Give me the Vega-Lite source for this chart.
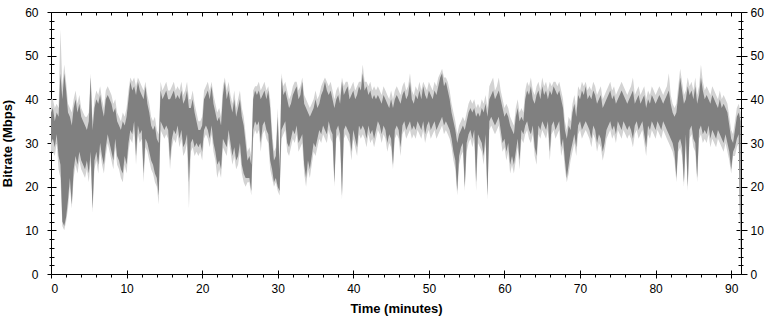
{
"$schema": "https://vega.github.io/schema/vega-lite/v6.json",
"width": 690, "height": 262,
"autosize": {"type": "none"},
"padding": {"left": 51, "top": 12, "right": 29, "bottom": 46},
"background": "white",
"config": {"view": {"stroke": null}, "axis": {"grid": false, "labelFont": "Liberation Sans", "labelFontSize": 12, "labelColor": "black", "tickColor": "black", "domainColor": "black", "titleFont": "Liberation Sans", "titleFontSize": 13, "titleFontWeight": "bold", "titleColor": "black", "zindex": 1}},
"data": {"values": [
{"t":0,"a":28,"b":30,"c":37,"d":40},{"t":0.25,"a":28,"b":31,"c":38,"d":40},{"t":0.5,"a":27,"b":29,"c":35,"d":38},{"t":0.75,"a":30,"b":32,"c":37,"d":39},
{"t":1,"a":24,"b":27,"c":36,"d":38},{"t":1.25,"a":22,"b":25,"c":46,"d":56},{"t":1.5,"a":11,"b":12,"c":40,"d":43},{"t":1.75,"a":10,"b":11,"c":46,"d":48},
{"t":2,"a":12,"b":13,"c":42,"d":44},{"t":2.25,"a":15,"b":17,"c":37,"d":39},{"t":2.5,"a":20,"b":22,"c":36,"d":38},{"t":2.75,"a":15,"b":16,"c":34,"d":37},
{"t":3,"a":22,"b":24,"c":38,"d":40},{"t":3.25,"a":25,"b":27,"c":40,"d":42},{"t":3.5,"a":23,"b":25,"c":37,"d":39},{"t":3.75,"a":26,"b":28,"c":39,"d":41},
{"t":4,"a":24,"b":26,"c":36,"d":38},{"t":4.25,"a":23,"b":25,"c":35,"d":37},{"t":4.5,"a":22,"b":24,"c":34,"d":36},{"t":4.75,"a":24,"b":26,"c":33,"d":36},
{"t":5,"a":21,"b":23,"c":35,"d":37},{"t":5.25,"a":26,"b":28,"c":45,"d":46},{"t":5.5,"a":14,"b":15,"c":33,"d":35},{"t":5.75,"a":24,"b":26,"c":38,"d":40},
{"t":6,"a":26,"b":28,"c":40,"d":42},{"t":6.25,"a":23,"b":25,"c":39,"d":41},{"t":6.5,"a":28,"b":30,"c":41,"d":43},{"t":6.75,"a":25,"b":27,"c":38,"d":40},
{"t":7,"a":23,"b":25,"c":36,"d":38},{"t":7.25,"a":27,"b":29,"c":40,"d":42},{"t":7.5,"a":30,"b":32,"c":41,"d":43},{"t":7.75,"a":28,"b":30,"c":40,"d":42},
{"t":8,"a":26,"b":28,"c":39,"d":41},{"t":8.25,"a":24,"b":26,"c":37,"d":39},{"t":8.5,"a":29,"b":31,"c":38,"d":40},{"t":8.75,"a":25,"b":27,"c":35,"d":37},
{"t":9,"a":24,"b":26,"c":34,"d":36},{"t":9.25,"a":22,"b":24,"c":33,"d":35},{"t":9.5,"a":21,"b":23,"c":35,"d":37},{"t":9.75,"a":25,"b":27,"c":34,"d":36},
{"t":10,"a":23,"b":25,"c":36,"d":38},{"t":10.25,"a":28,"b":30,"c":40,"d":42},{"t":10.5,"a":31,"b":33,"c":44,"d":45},{"t":10.75,"a":30,"b":32,"c":42,"d":44},
{"t":11,"a":33,"b":35,"c":43,"d":45},{"t":11.25,"a":25,"b":27,"c":41,"d":43},{"t":11.5,"a":32,"b":34,"c":44,"d":45},{"t":11.75,"a":30,"b":32,"c":42,"d":44},
{"t":12,"a":31,"b":33,"c":41,"d":43},{"t":12.25,"a":21,"b":23,"c":40,"d":42},{"t":12.5,"a":29,"b":31,"c":43,"d":44},{"t":12.75,"a":28,"b":30,"c":39,"d":41},
{"t":13,"a":26,"b":28,"c":37,"d":39},{"t":13.25,"a":24,"b":26,"c":34,"d":36},{"t":13.5,"a":23,"b":25,"c":33,"d":35},{"t":13.75,"a":21,"b":23,"c":34,"d":36},
{"t":14,"a":20,"b":22,"c":31,"d":33},{"t":14.25,"a":16,"b":18,"c":30,"d":32},{"t":14.5,"a":33,"b":35,"c":42,"d":44},{"t":14.75,"a":32,"b":34,"c":40,"d":42},
{"t":15,"a":31,"b":33,"c":41,"d":43},{"t":15.25,"a":32,"b":34,"c":42,"d":44},{"t":15.5,"a":31,"b":33,"c":40,"d":42},{"t":15.75,"a":24,"b":26,"c":40,"d":42},
{"t":16,"a":29,"b":31,"c":41,"d":43},{"t":16.25,"a":31,"b":33,"c":42,"d":44},{"t":16.5,"a":30,"b":32,"c":40,"d":42},{"t":16.75,"a":32,"b":34,"c":41,"d":43},
{"t":17,"a":29,"b":31,"c":40,"d":42},{"t":17.25,"a":31,"b":33,"c":42,"d":44},{"t":17.5,"a":27,"b":29,"c":39,"d":41},{"t":17.75,"a":28,"b":30,"c":40,"d":42},
{"t":18,"a":30,"b":32,"c":42,"d":44},{"t":18.25,"a":15,"b":21,"c":38,"d":40},{"t":18.5,"a":28,"b":30,"c":38,"d":40},{"t":18.75,"a":29,"b":31,"c":40,"d":42},
{"t":19,"a":27,"b":29,"c":37,"d":39},{"t":19.25,"a":28,"b":30,"c":35,"d":37},{"t":19.5,"a":27,"b":29,"c":33,"d":35},{"t":19.75,"a":28,"b":30,"c":33,"d":35},
{"t":20,"a":26,"b":28,"c":34,"d":36},{"t":20.25,"a":31,"b":33,"c":40,"d":42},{"t":20.5,"a":32,"b":34,"c":41,"d":43},{"t":20.75,"a":31,"b":33,"c":42,"d":44},
{"t":21,"a":29,"b":31,"c":40,"d":42},{"t":21.25,"a":32,"b":34,"c":43,"d":44},{"t":21.5,"a":28,"b":30,"c":39,"d":41},{"t":21.75,"a":26,"b":28,"c":37,"d":39},
{"t":22,"a":22,"b":25,"c":35,"d":37},{"t":22.25,"a":24,"b":26,"c":36,"d":38},{"t":22.5,"a":22,"b":24,"c":34,"d":36},{"t":22.75,"a":29,"b":31,"c":41,"d":43},
{"t":23,"a":28,"b":30,"c":44,"d":45},{"t":23.25,"a":27,"b":29,"c":40,"d":42},{"t":23.5,"a":31,"b":33,"c":42,"d":44},{"t":23.75,"a":28,"b":30,"c":39,"d":41},
{"t":24,"a":25,"b":27,"c":37,"d":39},{"t":24.25,"a":27,"b":29,"c":40,"d":42},{"t":24.5,"a":24,"b":26,"c":36,"d":38},{"t":24.75,"a":25,"b":27,"c":38,"d":40},
{"t":25,"a":28,"b":30,"c":40,"d":42},{"t":25.25,"a":23,"b":25,"c":36,"d":38},{"t":25.5,"a":21,"b":23,"c":34,"d":36},{"t":25.75,"a":20,"b":22,"c":30,"d":32},
{"t":26,"a":21,"b":22,"c":26,"d":28},{"t":26.25,"a":21,"b":22,"c":27,"d":29},{"t":26.5,"a":18,"b":19,"c":25,"d":27},{"t":26.75,"a":31,"b":33,"c":40,"d":42},
{"t":27,"a":33,"b":35,"c":42,"d":43},{"t":27.25,"a":32,"b":34,"c":41,"d":43},{"t":27.5,"a":33,"b":35,"c":42,"d":44},{"t":27.75,"a":28,"b":30,"c":40,"d":42},
{"t":28,"a":32,"b":34,"c":41,"d":43},{"t":28.25,"a":33,"b":35,"c":42,"d":44},{"t":28.5,"a":31,"b":33,"c":40,"d":42},{"t":28.75,"a":30,"b":32,"c":42,"d":43},
{"t":29,"a":24,"b":26,"c":38,"d":40},{"t":29.25,"a":22,"b":24,"c":31,"d":33},{"t":29.5,"a":20,"b":21,"c":26,"d":28},{"t":29.75,"a":21,"b":22,"c":27,"d":29},
{"t":30,"a":19,"b":20,"c":36,"d":38},{"t":30.25,"a":18,"b":19,"c":24,"d":26},{"t":30.5,"a":31,"b":33,"c":45,"d":46},{"t":30.75,"a":32,"b":34,"c":41,"d":43},
{"t":31,"a":33,"b":35,"c":42,"d":44},{"t":31.25,"a":28,"b":30,"c":40,"d":42},{"t":31.5,"a":27,"b":29,"c":38,"d":40},{"t":31.75,"a":29,"b":31,"c":39,"d":41},
{"t":32,"a":31,"b":33,"c":41,"d":43},{"t":32.25,"a":30,"b":32,"c":42,"d":44},{"t":32.5,"a":32,"b":34,"c":43,"d":44},{"t":32.75,"a":28,"b":30,"c":40,"d":42},
{"t":33,"a":29,"b":31,"c":41,"d":43},{"t":33.25,"a":30,"b":32,"c":44,"d":45},{"t":33.5,"a":23,"b":25,"c":39,"d":41},{"t":33.75,"a":20,"b":22,"c":38,"d":40},
{"t":34,"a":24,"b":26,"c":37,"d":39},{"t":34.25,"a":22,"b":24,"c":36,"d":38},{"t":34.5,"a":25,"b":27,"c":37,"d":39},{"t":34.75,"a":28,"b":30,"c":38,"d":40},
{"t":35,"a":27,"b":29,"c":40,"d":42},{"t":35.25,"a":29,"b":31,"c":38,"d":40},{"t":35.5,"a":31,"b":33,"c":39,"d":41},{"t":35.75,"a":30,"b":32,"c":41,"d":43},
{"t":36,"a":32,"b":34,"c":42,"d":44},{"t":36.25,"a":31,"b":33,"c":44,"d":45},{"t":36.5,"a":30,"b":32,"c":42,"d":44},{"t":36.75,"a":33,"b":35,"c":41,"d":43},
{"t":37,"a":31,"b":33,"c":42,"d":44},{"t":37.25,"a":30,"b":32,"c":40,"d":42},{"t":37.5,"a":20,"b":21,"c":38,"d":40},{"t":37.75,"a":31,"b":33,"c":40,"d":42},
{"t":38,"a":32,"b":34,"c":41,"d":43},{"t":38.25,"a":30,"b":32,"c":39,"d":41},{"t":38.5,"a":17,"b":18,"c":44,"d":45},{"t":38.75,"a":31,"b":33,"c":41,"d":43},
{"t":39,"a":32,"b":34,"c":42,"d":44},{"t":39.25,"a":31,"b":33,"c":43,"d":44},{"t":39.5,"a":30,"b":32,"c":40,"d":42},{"t":39.75,"a":26,"b":28,"c":41,"d":43},
{"t":40,"a":31,"b":33,"c":42,"d":44},{"t":40.25,"a":29,"b":31,"c":40,"d":42},{"t":40.5,"a":27,"b":29,"c":41,"d":43},{"t":40.75,"a":32,"b":34,"c":43,"d":44},
{"t":41,"a":31,"b":33,"c":42,"d":44},{"t":41.25,"a":32,"b":34,"c":46,"d":48},{"t":41.5,"a":31,"b":33,"c":42,"d":44},{"t":41.75,"a":29,"b":31,"c":43,"d":44},
{"t":42,"a":32,"b":34,"c":41,"d":43},{"t":42.25,"a":30,"b":32,"c":42,"d":44},{"t":42.5,"a":31,"b":33,"c":40,"d":42},{"t":42.75,"a":29,"b":31,"c":41,"d":43},
{"t":43,"a":31,"b":33,"c":40,"d":42},{"t":43.25,"a":33,"b":35,"c":41,"d":43},{"t":43.5,"a":32,"b":34,"c":40,"d":42},{"t":43.75,"a":30,"b":32,"c":39,"d":41},
{"t":44,"a":32,"b":34,"c":41,"d":43},{"t":44.25,"a":31,"b":33,"c":40,"d":42},{"t":44.5,"a":28,"b":30,"c":39,"d":41},{"t":44.75,"a":30,"b":32,"c":38,"d":40},
{"t":45,"a":29,"b":31,"c":40,"d":42},{"t":45.25,"a":24,"b":25,"c":38,"d":40},{"t":45.5,"a":31,"b":33,"c":40,"d":42},{"t":45.75,"a":32,"b":34,"c":41,"d":43},
{"t":46,"a":31,"b":33,"c":40,"d":42},{"t":46.25,"a":27,"b":29,"c":39,"d":41},{"t":46.5,"a":32,"b":34,"c":41,"d":43},{"t":46.75,"a":33,"b":35,"c":42,"d":44},
{"t":47,"a":31,"b":33,"c":40,"d":42},{"t":47.25,"a":32,"b":34,"c":41,"d":43},{"t":47.5,"a":33,"b":35,"c":44,"d":46},{"t":47.75,"a":31,"b":33,"c":40,"d":42},
{"t":48,"a":32,"b":34,"c":39,"d":41},{"t":48.25,"a":31,"b":33,"c":41,"d":43},{"t":48.5,"a":33,"b":35,"c":40,"d":42},{"t":48.75,"a":32,"b":34,"c":42,"d":44},
{"t":49,"a":31,"b":33,"c":40,"d":42},{"t":49.25,"a":33,"b":35,"c":43,"d":44},{"t":49.5,"a":30,"b":32,"c":41,"d":43},{"t":49.75,"a":32,"b":34,"c":40,"d":42},
{"t":50,"a":33,"b":35,"c":42,"d":44},{"t":50.25,"a":31,"b":33,"c":41,"d":43},{"t":50.5,"a":32,"b":34,"c":40,"d":42},{"t":50.75,"a":33,"b":35,"c":42,"d":44},
{"t":51,"a":31,"b":33,"c":41,"d":43},{"t":51.25,"a":32,"b":34,"c":43,"d":45},{"t":51.5,"a":33,"b":35,"c":45,"d":46},{"t":51.75,"a":34,"b":36,"c":46,"d":47},
{"t":52,"a":32,"b":34,"c":43,"d":45},{"t":52.25,"a":33,"b":35,"c":44,"d":45},{"t":52.5,"a":32,"b":34,"c":42,"d":44},{"t":52.75,"a":31,"b":33,"c":40,"d":42},
{"t":53,"a":29,"b":31,"c":37,"d":39},{"t":53.25,"a":26,"b":28,"c":35,"d":37},{"t":53.5,"a":24,"b":26,"c":33,"d":35},{"t":53.75,"a":18,"b":19,"c":30,"d":32},
{"t":54,"a":25,"b":27,"c":32,"d":34},{"t":54.25,"a":27,"b":29,"c":33,"d":35},{"t":54.5,"a":28,"b":30,"c":34,"d":36},{"t":54.75,"a":19,"b":20,"c":33,"d":35},
{"t":55,"a":28,"b":30,"c":35,"d":37},{"t":55.25,"a":30,"b":32,"c":37,"d":39},{"t":55.5,"a":31,"b":33,"c":38,"d":40},{"t":55.75,"a":29,"b":31,"c":37,"d":39},
{"t":56,"a":31,"b":33,"c":38,"d":40},{"t":56.25,"a":19,"b":21,"c":36,"d":38},{"t":56.5,"a":30,"b":32,"c":37,"d":39},{"t":56.75,"a":29,"b":31,"c":36,"d":38},
{"t":57,"a":28,"b":30,"c":38,"d":40},{"t":57.25,"a":25,"b":27,"c":37,"d":39},{"t":57.5,"a":30,"b":32,"c":39,"d":41},{"t":57.75,"a":17,"b":18,"c":36,"d":38},
{"t":58,"a":33,"b":35,"c":40,"d":43},{"t":58.25,"a":34,"b":36,"c":41,"d":44},{"t":58.5,"a":33,"b":35,"c":42,"d":45},{"t":58.75,"a":32,"b":34,"c":40,"d":42},
{"t":59,"a":33,"b":35,"c":41,"d":43},{"t":59.25,"a":34,"b":36,"c":42,"d":45},{"t":59.5,"a":31,"b":33,"c":40,"d":42},{"t":59.75,"a":28,"b":30,"c":38,"d":40},
{"t":60,"a":29,"b":31,"c":36,"d":38},{"t":60.25,"a":26,"b":28,"c":37,"d":39},{"t":60.5,"a":28,"b":30,"c":36,"d":38},{"t":60.75,"a":23,"b":25,"c":34,"d":36},
{"t":61,"a":25,"b":27,"c":33,"d":35},{"t":61.25,"a":23,"b":25,"c":32,"d":34},{"t":61.5,"a":26,"b":28,"c":36,"d":38},{"t":61.75,"a":29,"b":31,"c":38,"d":40},
{"t":62,"a":24,"b":26,"c":35,"d":37},{"t":62.25,"a":31,"b":33,"c":36,"d":38},{"t":62.5,"a":30,"b":32,"c":35,"d":37},{"t":62.75,"a":32,"b":34,"c":40,"d":42},
{"t":63,"a":33,"b":35,"c":42,"d":44},{"t":63.25,"a":31,"b":33,"c":41,"d":43},{"t":63.5,"a":30,"b":32,"c":43,"d":45},{"t":63.75,"a":32,"b":34,"c":40,"d":42},
{"t":64,"a":27,"b":29,"c":39,"d":41},{"t":64.25,"a":25,"b":27,"c":41,"d":43},{"t":64.5,"a":32,"b":34,"c":42,"d":44},{"t":64.75,"a":31,"b":33,"c":40,"d":42},
{"t":65,"a":33,"b":35,"c":43,"d":45},{"t":65.25,"a":32,"b":34,"c":41,"d":43},{"t":65.5,"a":31,"b":33,"c":42,"d":44},{"t":65.75,"a":33,"b":35,"c":40,"d":42},
{"t":66,"a":26,"b":28,"c":42,"d":44},{"t":66.25,"a":32,"b":34,"c":41,"d":43},{"t":66.5,"a":33,"b":35,"c":43,"d":44},{"t":66.75,"a":31,"b":33,"c":42,"d":44},
{"t":67,"a":32,"b":34,"c":41,"d":43},{"t":67.25,"a":33,"b":35,"c":42,"d":44},{"t":67.5,"a":27,"b":29,"c":40,"d":42},{"t":67.75,"a":29,"b":31,"c":38,"d":40},
{"t":68,"a":24,"b":26,"c":33,"d":35},{"t":68.25,"a":21,"b":22,"c":31,"d":33},{"t":68.5,"a":23,"b":25,"c":34,"d":36},{"t":68.75,"a":26,"b":28,"c":33,"d":35},
{"t":69,"a":28,"b":30,"c":37,"d":39},{"t":69.25,"a":30,"b":32,"c":39,"d":41},{"t":69.5,"a":27,"b":29,"c":36,"d":38},{"t":69.75,"a":32,"b":34,"c":41,"d":43},
{"t":70,"a":33,"b":35,"c":40,"d":42},{"t":70.25,"a":31,"b":33,"c":42,"d":44},{"t":70.5,"a":32,"b":34,"c":41,"d":43},{"t":70.75,"a":33,"b":35,"c":43,"d":44},
{"t":71,"a":32,"b":34,"c":40,"d":42},{"t":71.25,"a":31,"b":33,"c":41,"d":43},{"t":71.5,"a":29,"b":31,"c":40,"d":42},{"t":71.75,"a":32,"b":34,"c":42,"d":44},
{"t":72,"a":31,"b":33,"c":41,"d":43},{"t":72.25,"a":28,"b":30,"c":39,"d":41},{"t":72.5,"a":30,"b":32,"c":40,"d":42},{"t":72.75,"a":29,"b":31,"c":41,"d":43},
{"t":73,"a":26,"b":28,"c":38,"d":40},{"t":73.25,"a":28,"b":30,"c":39,"d":41},{"t":73.5,"a":31,"b":33,"c":40,"d":42},{"t":73.75,"a":32,"b":34,"c":41,"d":43},
{"t":74,"a":33,"b":35,"c":42,"d":44},{"t":74.25,"a":31,"b":33,"c":40,"d":42},{"t":74.5,"a":32,"b":34,"c":41,"d":43},{"t":74.75,"a":30,"b":32,"c":39,"d":41},
{"t":75,"a":33,"b":35,"c":40,"d":42},{"t":75.25,"a":32,"b":34,"c":41,"d":43},{"t":75.5,"a":31,"b":33,"c":42,"d":44},{"t":75.75,"a":33,"b":35,"c":41,"d":43},
{"t":76,"a":32,"b":34,"c":40,"d":42},{"t":76.25,"a":31,"b":33,"c":39,"d":41},{"t":76.5,"a":32,"b":34,"c":40,"d":42},{"t":76.75,"a":31,"b":33,"c":41,"d":43},
{"t":77,"a":29,"b":31,"c":42,"d":45},{"t":77.25,"a":32,"b":34,"c":39,"d":41},{"t":77.5,"a":33,"b":35,"c":40,"d":42},{"t":77.75,"a":31,"b":33,"c":41,"d":43},
{"t":78,"a":32,"b":34,"c":39,"d":41},{"t":78.25,"a":33,"b":35,"c":40,"d":42},{"t":78.5,"a":30,"b":32,"c":41,"d":43},{"t":78.75,"a":27,"b":29,"c":38,"d":40},
{"t":79,"a":32,"b":34,"c":40,"d":42},{"t":79.25,"a":31,"b":33,"c":39,"d":41},{"t":79.5,"a":33,"b":35,"c":41,"d":43},{"t":79.75,"a":32,"b":34,"c":40,"d":42},
{"t":80,"a":31,"b":33,"c":39,"d":41},{"t":80.25,"a":33,"b":35,"c":40,"d":42},{"t":80.5,"a":32,"b":34,"c":41,"d":43},{"t":80.75,"a":31,"b":33,"c":40,"d":42},
{"t":81,"a":33,"b":35,"c":39,"d":41},{"t":81.25,"a":32,"b":34,"c":40,"d":42},{"t":81.5,"a":31,"b":33,"c":41,"d":43},{"t":81.75,"a":30,"b":32,"c":42,"d":46},
{"t":82,"a":29,"b":31,"c":39,"d":41},{"t":82.25,"a":28,"b":30,"c":37,"d":39},{"t":82.5,"a":26,"b":28,"c":36,"d":38},{"t":82.75,"a":21,"b":22,"c":37,"d":39},
{"t":83,"a":28,"b":30,"c":41,"d":43},{"t":83.25,"a":29,"b":31,"c":45,"d":47},{"t":83.5,"a":27,"b":29,"c":42,"d":44},{"t":83.75,"a":20,"b":21,"c":39,"d":41},
{"t":84,"a":30,"b":32,"c":40,"d":42},{"t":84.25,"a":19,"b":20,"c":43,"d":45},{"t":84.5,"a":31,"b":33,"c":41,"d":43},{"t":84.75,"a":32,"b":34,"c":42,"d":44},
{"t":85,"a":29,"b":31,"c":40,"d":42},{"t":85.25,"a":28,"b":30,"c":43,"d":45},{"t":85.5,"a":21,"b":22,"c":39,"d":41},{"t":85.75,"a":31,"b":33,"c":41,"d":43},
{"t":86,"a":32,"b":34,"c":45,"d":48},{"t":86.25,"a":30,"b":32,"c":42,"d":44},{"t":86.5,"a":31,"b":33,"c":40,"d":42},{"t":86.75,"a":30,"b":32,"c":41,"d":43},
{"t":87,"a":32,"b":34,"c":40,"d":42},{"t":87.25,"a":29,"b":31,"c":39,"d":41},{"t":87.5,"a":31,"b":33,"c":41,"d":43},{"t":87.75,"a":30,"b":32,"c":40,"d":42},
{"t":88,"a":29,"b":31,"c":39,"d":41},{"t":88.25,"a":31,"b":33,"c":38,"d":40},{"t":88.5,"a":30,"b":32,"c":40,"d":42},{"t":88.75,"a":29,"b":31,"c":38,"d":40},
{"t":89,"a":28,"b":30,"c":39,"d":41},{"t":89.25,"a":30,"b":32,"c":38,"d":40},{"t":89.5,"a":28,"b":30,"c":37,"d":39},{"t":89.75,"a":26,"b":28,"c":34,"d":36},
{"t":90,"a":23,"b":24,"c":31,"d":33},{"t":90.25,"a":27,"b":28,"c":30,"d":32},{"t":90.5,"a":27,"b":29,"c":33,"d":35},{"t":90.75,"a":29,"b":31,"c":36,"d":38},
{"t":91,"a":30,"b":32,"c":37,"d":39},{"t":91.25,"a":1,"b":2,"c":35,"d":37}
]},
"resolve": {"axis": {"x": "independent", "y": "independent"}},
"layer": [
{"mark": {"type": "area", "color": "#d3d3d3"},
 "encoding": {
  "x": {"field": "t", "type": "quantitative", "scale": {"domain": [0, 91.3], "nice": false, "zero": false},
        "axis": {"orient": "bottom", "values": [0,10,20,30,40,50,60,70,80,90], "domain": true, "ticks": true, "tickSize": 4, "labels": true, "labelPadding": 5, "title": "Time (minutes)", "titlePadding": 8}},
  "y": {"field": "a", "type": "quantitative", "scale": {"domain": [0, 60], "nice": false},
        "axis": {"orient": "left", "values": [0,10,20,30,40,50,60], "domain": true, "ticks": true, "tickSize": 4, "labels": true, "labelPadding": 9, "title": "Bitrate (Mbps)", "titlePadding": 10}},
  "y2": {"field": "d"}}},
{"mark": {"type": "area", "color": "#808080"},
 "encoding": {
  "x": {"field": "t", "type": "quantitative", "scale": {"domain": [0, 91.3], "nice": false, "zero": false},
        "axis": {"orient": "bottom", "values": [0,10,20,30,40,50,60,70,80,90], "domain": false, "tickSize": 4, "offset": -4, "labels": false, "title": null}},
  "y": {"field": "b", "type": "quantitative", "scale": {"domain": [0, 60], "nice": false},
        "axis": {"orient": "left", "values": [0,10,20,30,40,50,60], "domain": false, "tickSize": 5, "offset": -5, "labels": false, "title": null}},
  "y2": {"field": "c"}}},
{"mark": {"type": "point", "opacity": 0},
 "encoding": {
  "x": {"field": "t", "type": "quantitative", "scale": {"domain": [0, 91.3], "nice": false, "zero": false},
        "axis": {"orient": "bottom", "values": [2,4,6,8,12,14,16,18,22,24,26,28,32,34,36,38,42,44,46,48,52,54,56,58,62,64,66,68,72,74,76,78,82,84,86,88], "domain": false, "tickSize": 3, "labels": false, "title": null}},
  "y": {"field": "b", "type": "quantitative", "scale": {"domain": [0, 60], "nice": false},
        "axis": {"orient": "left", "values": [2,4,6,8,12,14,16,18,22,24,26,28,32,34,36,38,42,44,46,48,52,54,56,58], "domain": false, "tickSize": 5, "offset": -3, "labels": false, "title": null}}}},
{"mark": {"type": "point", "opacity": 0},
 "encoding": {
  "x": {"field": "t", "type": "quantitative", "scale": {"domain": [0, 91.3], "nice": false, "zero": false},
        "axis": {"orient": "top", "values": [0,10,20,30,40,50,60,70,80,90], "domain": true, "ticks": false, "labels": false, "title": null}},
  "y": {"field": "b", "type": "quantitative", "scale": {"domain": [0, 60], "nice": false},
        "axis": {"orient": "right", "values": [0,10,20,30,40,50,60], "domain": true, "ticks": true, "tickSize": 6, "labels": true, "labelPadding": 3, "title": null}}}},
{"mark": {"type": "point", "opacity": 0},
 "encoding": {
  "x": {"field": "t", "type": "quantitative", "scale": {"domain": [0, 91.3], "nice": false, "zero": false},
        "axis": {"orient": "top", "values": [0,10,20,30,40,50,60,70,80,90], "domain": false, "tickSize": 4, "offset": -4, "labels": false, "title": null}},
  "y": {"field": "b", "type": "quantitative", "scale": {"domain": [0, 60], "nice": false},
        "axis": {"orient": "right", "values": [0,10,20,30,40,50,60], "domain": false, "tickSize": 5, "offset": -5, "labels": false, "title": null}}}},
{"mark": {"type": "point", "opacity": 0},
 "encoding": {
  "x": {"field": "t", "type": "quantitative", "scale": {"domain": [0, 91.3], "nice": false, "zero": false},
        "axis": {"orient": "top", "values": [2,4,6,8,12,14,16,18,22,24,26,28,32,34,36,38,42,44,46,48,52,54,56,58,62,64,66,68,72,74,76,78,82,84,86,88], "domain": false, "tickSize": 3, "offset": -3, "labels": false, "title": null}},
  "y": {"field": "b", "type": "quantitative", "scale": {"domain": [0, 60], "nice": false},
        "axis": {"orient": "right", "values": [2,4,6,8,12,14,16,18,22,24,26,28,32,34,36,38,42,44,46,48,52,54,56,58], "domain": false, "tickSize": 5, "offset": -3, "labels": false, "title": null}}}}
]
}
